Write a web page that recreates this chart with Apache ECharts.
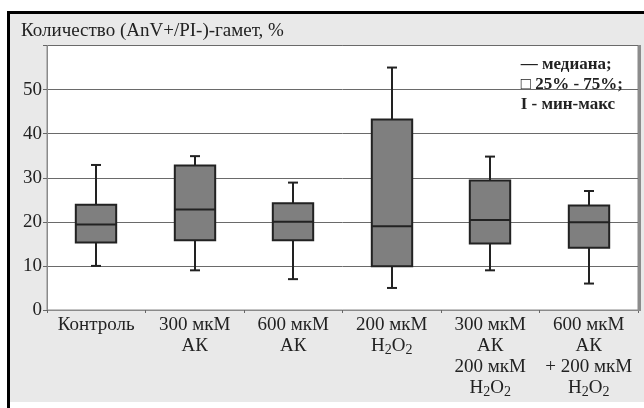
<!DOCTYPE html>
<html><head><meta charset="utf-8">
<script src="https://cdn.jsdelivr.net/npm/echarts@6/dist/echarts.min.js"></script>
<style>html,body{margin:0;padding:0;background:#fff}#c{width:644px;height:408px}</style>
</head><body><div id="c"></div>
<script>
// ---- data ----
const categories = ['Контроль', '300 мкМ\nАК', '600 мкМ\nАК', '200 мкМ\nH2O2', '300 мкМ\nАК\n200 мкМ\nH2O2', '600 мкМ\nАК\n+ 200 мкМ\nH2O2'];
const minVals    = [10, 9, 7, 5, 9, 6];
const q1Vals     = [15.3, 15.8, 15.8, 9.9, 15.1, 14.1];
const medianVals = [19.4, 22.8, 20.0, 19.0, 20.4, 19.9];
const q3Vals     = [23.9, 32.8, 24.2, 43.2, 29.4, 23.7];
const maxVals    = [32.9, 34.9, 28.9, 55.0, 34.8, 27.0];
const yTicks     = [0, 10, 20, 30, 40, 50];
const titleText  = 'Количество (AnV+/PI-)-гамет, %';
const legendLines = ['— медиана;', '□ 25% - 75%;', 'I - мин-макс'];

const boxData = categories.map((c, i) => [i, minVals[i], q1Vals[i], medianVals[i], q3Vals[i], maxVals[i]]);
const serif = '"Liberation Serif", "DejaVu Serif", serif';

const chart = echarts.init(document.getElementById('c'));
chart.setOption({
  animation: false,
  backgroundColor: '#fff',
  graphic: [
    { type: 'rect', z: -10, shape: { x: 8, y: 12, width: 640, height: 390 }, style: { fill: '#e9e9e9' } },
    { type: 'line', z: 10, shape: { x1: 8, y1: 12.5, x2: 644, y2: 12.5 }, style: { stroke: '#000', lineWidth: 3 } },
    { type: 'line', z: 10, shape: { x1: 8.5, y1: 11, x2: 8.5, y2: 408 }, style: { stroke: '#000', lineWidth: 3 } },
    { type: 'line', z: 10, shape: { x1: 639.5, y1: 45, x2: 639.5, y2: 311 }, style: { stroke: '#8c8c8c', lineWidth: 3 } },
    { type: 'text', z: 10, left: 21, top: 22, style: { text: titleText, font: '19px ' + serif, fill: '#222' } },
    { type: 'text', z: 10, right: 21, top: 55, style: { text: legendLines.join('\n'), font: 'bold 17px ' + serif, fill: '#222', align: 'right', lineHeight: 20 } }
  ],
  grid: { left: 47, right: 6, top: 45.5, bottom: 98, show: true, backgroundColor: '#fff', borderColor: '#8a8a8a', borderWidth: 1 },
  xAxis: {
    type: 'category', data: categories, boundaryGap: true,
    axisLine: { lineStyle: { color: '#8a8a8a', width: 1 } },
    axisTick: { show: true, length: 3, lineStyle: { color: '#666' } },
    axisLabel: {
      interval: 0, margin: 5, color: '#222', fontFamily: serif, fontSize: 19, lineHeight: 21,
      formatter: v => v.replace(/H2O2/g, 'H{s|2}O{s|2}'),
      rich: { s: { fontSize: 14, fontFamily: serif, color: '#222', lineHeight: 14, verticalAlign: 'bottom', padding: [6, 0, 0, 0] } }
    }
  },
  yAxis: {
    type: 'value', min: 0, max: 60, interval: 10,
    axisLine: { show: true, lineStyle: { color: '#8a8a8a' } },
    axisTick: { show: true, length: 4, lineStyle: { color: '#666' } },
    axisLabel: { color: '#222', fontFamily: serif, fontSize: 19, margin: 5,
      formatter: v => (yTicks.indexOf(v) >= 0 ? String(v) : '') },
    splitLine: { show: true, lineStyle: { color: '#6a6a6a', width: 1 } }
  },
  series: [{
    type: 'custom',
    data: boxData,
    encode: { x: 0, y: [1, 2, 3, 4, 5] },
    renderItem: function (params, api) {
      const idx = api.value(0);
      const bw = api.size([1, 0])[0] * 0.41;
      const capW = 10;
      const pMin = api.coord([idx, api.value(1)]);
      const pQ1 = api.coord([idx, api.value(2)]);
      const pMed = api.coord([idx, api.value(3)]);
      const pQ3 = api.coord([idx, api.value(4)]);
      const pMax = api.coord([idx, api.value(5)]);
      const cx = Math.round(pMed[0]);
      const stroke = { stroke: '#222', lineWidth: 2 };
      return {
        type: 'group',
        children: [
          { type: 'line', shape: { x1: cx, y1: pMax[1], x2: cx, y2: pQ3[1] }, style: stroke },
          { type: 'line', shape: { x1: cx, y1: pQ1[1], x2: cx, y2: pMin[1] }, style: stroke },
          { type: 'line', shape: { x1: cx - capW / 2, y1: pMax[1], x2: cx + capW / 2, y2: pMax[1] }, style: stroke },
          { type: 'line', shape: { x1: cx - capW / 2, y1: pMin[1], x2: cx + capW / 2, y2: pMin[1] }, style: stroke },
          { type: 'rect', shape: { x: cx - bw / 2, y: pQ3[1], width: bw, height: pQ1[1] - pQ3[1] }, style: { fill: '#7f7f7f', stroke: '#222', lineWidth: 2 } },
          { type: 'line', shape: { x1: cx - bw / 2, y1: pMed[1], x2: cx + bw / 2, y2: pMed[1] }, style: stroke }
        ]
      };
    }
  }]
});
</script></body></html>
